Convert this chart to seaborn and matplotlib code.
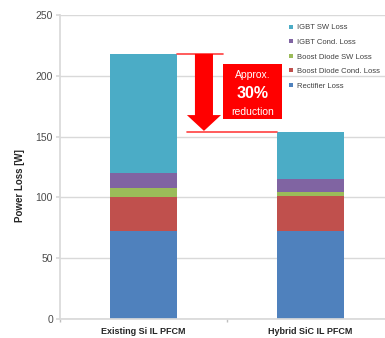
import matplotlib
matplotlib.use("Agg")
import matplotlib.pyplot as plt
from matplotlib.lines import Line2D
from matplotlib.patches import Polygon, Rectangle
import numpy as np
import pandas as pd
import seaborn as sns

# ---- data -------------------------------------------------------------
modules = ["Existing Si IL PFCM", "Hybrid SiC IL PFCM"]
components = ["Rectifier Loss", "Boost Diode Cond. Loss", "Boost Diode SW Loss",
              "IGBT Cond. Loss", "IGBT SW Loss"]
rectifier_loss = [72, 72]
boost_diode_cond_loss = [28, 29]
boost_diode_sw_loss = [8, 3.5]
igbt_cond_loss = [12, 11]
igbt_sw_loss = [98, 38]
y_ticks = [0, 50, 100, 150, 200, 250]
reduction_text = ["Approx.", "30%", "reduction"]

colors = ["#4F81BD", "#C0504D", "#9BBB59", "#8064A2", "#4BACC6"]

# ---- table ------------------------------------------------------------
series = [rectifier_loss, boost_diode_cond_loss, boost_diode_sw_loss,
          igbt_cond_loss, igbt_sw_loss]
df = pd.DataFrame({"module": np.repeat(modules, len(components)),
                   "component": components * len(modules),
                   "loss": [series[c][m] for m in range(len(modules))
                            for c in range(len(components))]})
df["cum"] = df.groupby("module")["loss"].cumsum()

sns.set_theme(style="white")
plt.rcParams["font.family"] = ["Liberation Sans", "DejaVu Sans"]

W, H = 385, 338
fig = plt.figure(figsize=(W / 100, H / 100), dpi=100)
ax_l, ax_r, ax_b, ax_t = 60, 394, 319, 15
ax = fig.add_axes([ax_l / W, (H - ax_b) / H, (ax_r - ax_l) / W, (ax_b - ax_t) / H])

# stacked bars: draw cumulative heights from the top layer down
for comp, col in reversed(list(zip(components, colors))):
    sub = df[df["component"] == comp]
    sns.barplot(data=sub, x="module", y="cum", order=modules, color=col,
                width=0.4, saturation=1, ax=ax, edgecolor="none", linewidth=0)

ax.set_xlim(-0.5, 1.5)
ax.set_ylim(0, 250)
ax.set_yticks(y_ticks)
ax.yaxis.grid(True, color="#d9d9d9", linewidth=1)
ax.set_axisbelow(True)
for s in ["top", "right"]:
    ax.spines[s].set_visible(False)
ax.spines["left"].set_color("#d9d9d9")
ax.spines["bottom"].set_color("#d9d9d9")
ax.tick_params(axis="y", labelsize=7.5, labelcolor="#4a4a4a", length=3,
               color="#d9d9d9", left=True, pad=2)
ax.tick_params(axis="x", labelsize=6.5, labelcolor="#262626", length=0, pad=6)
for lab in ax.get_xticklabels():
    lab.set_fontweight("bold")
ax.set_xticks([-0.5, 0.5, 1.5], minor=True)
ax.tick_params(axis="x", which="minor", bottom=True, length=2, color="#bfbfbf")
ax.set_xlabel("")
ax.set_ylabel("Power Loss [W]", fontsize=7, fontweight="bold", color="#262626")
ax.yaxis.set_label_coords(-0.105, 0.44)

# ---- reduction annotation --------------------------------------------
totals = df.groupby("module", sort=False)["loss"].sum().reindex(modules).values
hi, lo = totals[0], totals[1]
red = "#FF0000"
ax.plot([0.2, 0.476], [hi, hi], color="#FF4040", lw=1.2, zorder=5)
ax.plot([0.26, 0.8], [lo, lo], color="#FF4040", lw=1.2, zorder=5)
shaft_bottom = lo + (hi - lo) * 0.22
arrow = Polygon([[0.308, hi], [0.416, hi], [0.416, shaft_bottom],
                 [0.464, shaft_bottom], [0.362, lo + 1.2], [0.26, shaft_bottom],
                 [0.308, shaft_bottom]], closed=True, color=red, zorder=6, lw=0)
ax.add_patch(arrow)
ax.add_patch(Rectangle((0.478, 164.2), 0.353, 45.5, color=red, zorder=6, lw=0))
ax.text(0.655, 200.7, reduction_text[0], color="white", fontsize=7.5,
        ha="center", va="center", zorder=7)
ax.text(0.655, 185.6, reduction_text[1], color="white", fontsize=11.5,
        fontweight="bold", ha="center", va="center", zorder=7)
ax.text(0.655, 170.5, reduction_text[2], color="white", fontsize=7.5,
        ha="center", va="center", zorder=7)

# ---- legend -----------------------------------------------------------
handles = [Line2D([], [], marker="s", linestyle="none", markersize=3,
                  markerfacecolor=c, markeredgewidth=0)
           for c in reversed(colors)]
leg = fig.legend(handles, list(reversed(components)), loc="upper left",
                 bbox_to_anchor=(289 / W, (H - 24) / H), frameon=False,
                 fontsize=5.5, handlelength=0.6, handletextpad=0.5,
                 labelspacing=0.95, borderpad=0, borderaxespad=0)
for t in leg.get_texts():
    t.set_color("#404040")

fig.savefig("out.png", dpi=100)
